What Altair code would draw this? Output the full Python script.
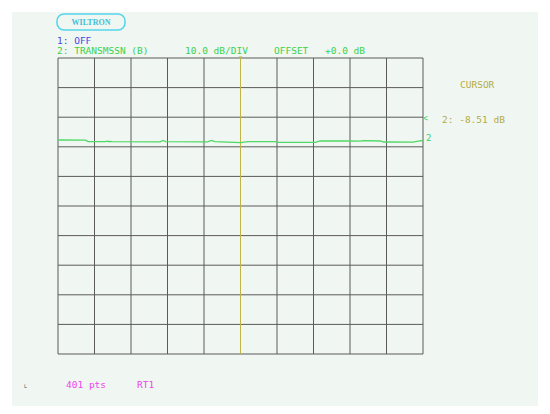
import altair as alt
import pandas as pd

# ---- data ----
trace_idx = [0, 30, 33, 52, 54, 56, 57, 59, 112, 115, 118, 164, 168, 172, 200, 208,
             238, 241, 282, 287, 315, 331, 335, 353, 357, 389, 395, 400]
trace_db = [-7.70, -7.77, -8.24, -8.28, -8.11, -8.28, -8.18, -8.28, -8.31, -7.87, -8.28,
            -8.31, -7.84, -8.24, -8.58, -8.24, -8.24, -8.51, -8.51, -8.04, -8.04, -8.11,
            -7.94, -8.04, -8.38, -8.45, -8.11, -7.87]
x_grid = [0, 40, 80, 120, 160, 200, 240, 280, 320, 360, 400]
y_grid = [20, 10, 0, -10, -20, -30, -40, -50, -60, -70, -80]
cursor_idx = [200]

W, H = 365, 296
xs = alt.Scale(domain=[0, 400], nice=False, zero=False)
ys = alt.Scale(domain=[-80, 20], nice=False, zero=False)

trace_df = pd.DataFrame({"i": trace_idx, "db": trace_db})
xg_df = pd.DataFrame({"i": x_grid})
yg_df = pd.DataFrame({"db": y_grid})
cur_df = pd.DataFrame({"i": cursor_idx})

panel = alt.Chart(pd.DataFrame({"a": [0]})).mark_rect(fill="#f0f6f2").encode(
    x=alt.value(-46), x2=alt.value(480), y=alt.value(-46), y2=alt.value(349))

vgrid = alt.Chart(xg_df).mark_rule(color="#5a5a5a", strokeWidth=1).encode(
    x=alt.X("i:Q", scale=xs, axis=None))
hgrid = alt.Chart(yg_df).mark_rule(color="#5a5a5a", strokeWidth=1).encode(
    y=alt.Y("db:Q", scale=ys, axis=None))

cursor = alt.Chart(cur_df).mark_rule(color="#bdb545", strokeWidth=1).encode(
    x=alt.X("i:Q", scale=xs, axis=None))
cursor_tri = alt.Chart(cur_df).mark_point(shape="triangle-down", filled=True,
                                          color="#bdb545", size=16).encode(
    x=alt.X("i:Q", scale=xs, axis=None), y=alt.value(0))

trace = alt.Chart(trace_df).mark_line(color="#4fd863", strokeWidth=1.3).encode(
    x=alt.X("i:Q", scale=xs, axis=None), y=alt.Y("db:Q", scale=ys, axis=None))

def txt(s, x, y, color, size=10, font="DejaVu Sans Mono", weight="normal", align="left"):
    return alt.Chart(pd.DataFrame({"t": [s]})).mark_text(
        align=align, baseline="alphabetic", font=font, fontSize=size,
        fontWeight=weight, color=color).encode(
        x=alt.value(x), y=alt.value(y), text="t:N")

logo_box = alt.Chart(pd.DataFrame({"a": [0]})).mark_rect(
    fillOpacity=0, stroke="#55d6ea", strokeWidth=1.6, cornerRadius=7).encode(
    x=alt.value(-1), x2=alt.value(67), y=alt.value(-44), y2=alt.value(-28))

texts = [
    txt("WILTRON", 33, -33, "#3fc0d6", size=8, font="Liberation Serif", weight="bold", align="center"),
    txt("1: OFF", -1, -14.5, "#4646e6", size=9.5),
    txt("2: TRANSMSSN (B)", -1, -4, "#3ad24c", size=9.5),
    txt("10.0 dB/DIV", 127, -4, "#3ad24c", size=9.5),
    txt("OFFSET", 216, -4, "#3ad24c", size=9.5),
    txt("+0.0 dB", 267, -4, "#3ad24c", size=9.5),
    txt("CURSOR", 402, 30, "#b3ad45", size=9.5),
    txt("2: -8.51 dB", 384, 65, "#b3ad45", size=9.5),
    txt("<", 365, 63, "#44cc66", size=8),
    txt("2", 368, 83, "#44cc66", size=9),
    txt("401 pts", 8, 330, "#ee44ee", size=9.5),
    txt("RT1", 79, 330, "#ee44ee", size=9.5),
    txt("L", -34, 330, "#555555", size=5),
]

chart = alt.layer(panel, vgrid, hgrid, cursor, trace, cursor_tri, logo_box, *texts).properties(
    width=W, height=H,
    autosize=alt.AutoSizeParams(type="none"),
    padding={"left": 50, "top": 50, "right": 119, "bottom": 52},
    background="#ffffff",
).configure_view(stroke="#5a5a5a", strokeWidth=1.2)

chart.save("out.html", embed_options={"renderer": "svg", "actions": False})
